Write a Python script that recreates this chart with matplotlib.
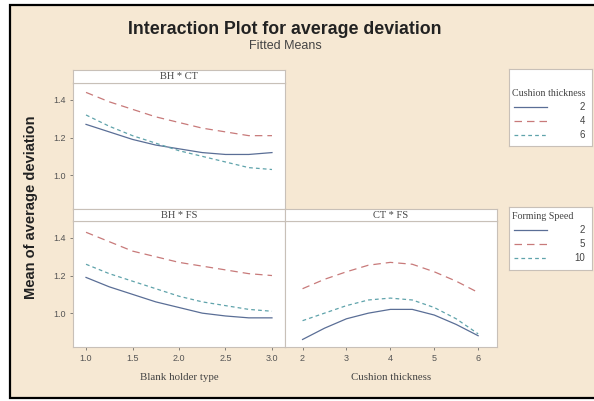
import matplotlib.pyplot as plt
from matplotlib.lines import Line2D
from matplotlib.patches import Rectangle

# blank holder type levels (x of left panels)
bh = [1.0, 1.25, 1.5, 1.75, 2.0, 2.25, 2.5, 2.75, 3.0]
# cushion thickness levels (x of right panel)
ct = [2, 2.5, 3, 3.5, 4, 4.5, 5, 5.5, 6]

# BH * CT, one series per cushion thickness
bhct_2 = [1.27, 1.23, 1.19, 1.16, 1.14, 1.12, 1.11, 1.11, 1.12]
bhct_4 = [1.44, 1.39, 1.35, 1.31, 1.28, 1.25, 1.23, 1.21, 1.21]
bhct_6 = [1.32, 1.26, 1.21, 1.17, 1.13, 1.10, 1.07, 1.04, 1.03]

# BH * FS, one series per forming speed
bhfs_2 = [1.19, 1.14, 1.10, 1.06, 1.03, 1.00, 0.985, 0.975, 0.975]
bhfs_5 = [1.43, 1.38, 1.33, 1.30, 1.27, 1.25, 1.23, 1.21, 1.20]
bhfs_10 = [1.26, 1.21, 1.17, 1.13, 1.09, 1.06, 1.04, 1.02, 1.01]

# CT * FS, one series per forming speed
ctfs_2 = [0.86, 0.92, 0.97, 1.00, 1.02, 1.02, 0.99, 0.94, 0.88]
ctfs_5 = [1.13, 1.18, 1.22, 1.255, 1.27, 1.26, 1.22, 1.17, 1.11]
ctfs_10 = [0.96, 1.00, 1.04, 1.07, 1.08, 1.07, 1.03, 0.97, 0.89]

ct_levels = ['2', '4', '6']
fs_levels = ['2', '5', '10']

W, H = 594, 401
bg = '#f6e8d3'
colors = ['#5a6e96', '#c87a7a', '#5fa3ab']
styles = ['-', (0, (6, 4)), (0, (3, 2.5))]
serif = 'Liberation Serif'
sans = 'Liberation Sans'

fig = plt.figure(figsize=(W / 100, H / 100), dpi=100)
fig.patch.set_facecolor('white')
fig.patches.append(Rectangle((10 / W, 1 - 398 / H), 600 / W, 393 / H, transform=fig.transFigure,
                             facecolor=bg, edgecolor='black', linewidth=1.6, zorder=-10))

def box(x0, y0, x1, y1):
    return [x0 / W, 1 - y1 / H, (x1 - x0) / W, (y1 - y0) / H]

def strip(x0, y0, x1, y1, label):
    s = fig.add_axes(box(x0, y0, x1, y1))
    s.set_facecolor('white')
    s.set_xticks([])
    s.set_yticks([])
    for sp in s.spines.values():
        sp.set_color('#c8c0b8')
        sp.set_linewidth(0.8)
    s.text(0.5, 0.5, label, ha='center', va='center', fontsize=7.5, family=serif, color='#444444')

ylim = (0.82, 1.49)

ax1 = fig.add_axes(box(73, 83, 285, 209))
ax2 = fig.add_axes(box(73, 221, 285, 347), sharey=ax1)
ax3 = fig.add_axes(box(285, 221, 497, 347), sharey=ax1)
strip(73, 70, 285, 83, 'BH * CT')
strip(73, 209, 285, 221, 'BH * FS')
strip(285, 209, 497, 221, 'CT * FS')

for i, ys in enumerate([bhct_2, bhct_4, bhct_6]):
    ax1.plot(bh, ys, color=colors[i], linestyle=styles[i], linewidth=0.9)
for i, ys in enumerate([bhfs_2, bhfs_5, bhfs_10]):
    ax2.plot(bh, ys, color=colors[i], linestyle=styles[i], linewidth=0.9)
for i, ys in enumerate([ctfs_2, ctfs_5, ctfs_10]):
    ax3.plot(ct, ys, color=colors[i], linestyle=styles[i], linewidth=0.9)

for ax in (ax1, ax2, ax3):
    ax.set_facecolor('white')
    ax.set_ylim(*ylim)
    ax.set_yticks([1.0, 1.2, 1.4])
    for sp in ax.spines.values():
        sp.set_color('#c8c0b8')
        sp.set_linewidth(0.8)
    ax.tick_params(labelsize=6.5, colors='#555555', length=2, width=0.5, pad=3)
    for lab in ax.get_xticklabels() + ax.get_yticklabels():
        lab.set_family(sans)

for ax in (ax1, ax2):
    ax.set_xlim(0.86, 3.14)
    ax.set_xticks([1.0, 1.5, 2.0, 2.5, 3.0])
    ax.set_yticklabels(['1.0', '1.2', '1.4'])
ax1.tick_params(axis='x', bottom=False, labelbottom=False)
ax2.set_xticklabels(['1.0', '1.5', '2.0', '2.5', '3.0'])
ax3.set_xlim(1.6, 6.43)
ax3.set_xticks([2, 3, 4, 5, 6])
ax3.tick_params(axis='y', left=False, labelleft=False)

ax2.set_xlabel('Blank holder type', fontsize=7.8, family=serif, color='#444444', labelpad=7)
ax3.set_xlabel('Cushion thickness', fontsize=7.8, family=serif, color='#444444', labelpad=7)

fig.text(31 / W, 1 - 207 / H, 'Mean of average deviation', rotation=90, ha='center', va='center',
         fontsize=10.5, fontweight='bold', family=sans, color='#222222')
fig.text(285 / W, 1 - 30 / H, 'Interaction Plot for average deviation', ha='center', va='center',
         fontsize=12.8, fontweight='bold', family=sans, color='#222222')
fig.text(285 / W, 1 - 46 / H, 'Fitted Means', ha='center', va='center',
         fontsize=9, family=sans, color='#444444')

def legend_box(y0, y1, title, levels):
    lg = fig.add_axes(box(509, y0, 592, y1))
    lg.set_facecolor('white')
    lg.set_xlim(0, 83)
    lg.set_ylim(y1 - y0, 0)
    lg.set_xticks([])
    lg.set_yticks([])
    for sp in lg.spines.values():
        sp.set_color('#c8c0b8')
        sp.set_linewidth(0.8)
    lg.set_clip_on(True)
    top = 24 if len(title) > 14 else 9
    t = lg.text(3, top, title, fontsize=7.2, family=serif, color='#444444', va='center')
    t.set_clip_on(True)
    for i, lev in enumerate(levels):
        yy = top + 14 * (i + 1)
        lg.add_line(Line2D([5, 38], [yy, yy], color=colors[i], linestyle=styles[i], linewidth=0.9))
        lg.text(76, yy, lev, fontsize=7, family=sans, color='#444444', ha='right', va='center')

legend_box(69, 146, 'Cushion thickness', ct_levels)
legend_box(207, 270, 'Forming Speed', fs_levels)

fig.savefig('out.png', dpi=100, facecolor=fig.get_facecolor())
